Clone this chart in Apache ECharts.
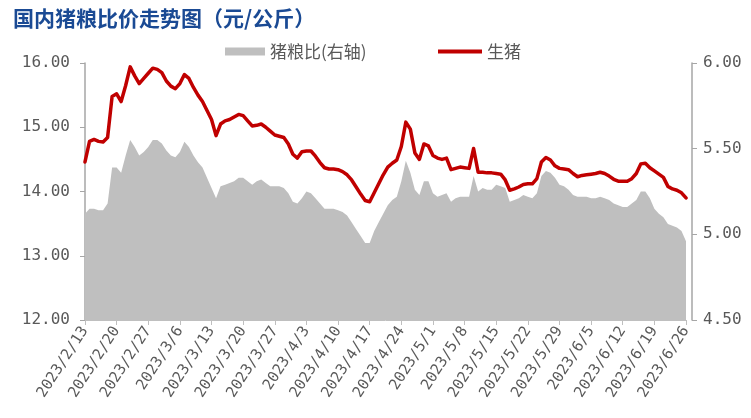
<!DOCTYPE html>
<html><head><meta charset="utf-8">
<script src="https://cdn.jsdelivr.net/npm/echarts@6/dist/echarts.min.js"></script>
<style>html,body{margin:0;padding:0;background:#fff}#c{width:751px;height:418px}</style>
</head><body><div id="c"></div>
<script>
// Categories: daily dates 2023/2/13 .. 2023/6/26
const startDate = [2023, 2, 13];
const dayCount = 134;
const categories = [];
for (let i = 0; i < dayCount; i++) {
  const d = new Date(Date.UTC(startDate[0], startDate[1] - 1, startDate[2] + i));
  categories.push(d.getUTCFullYear() + '/' + (d.getUTCMonth() + 1) + '/' + d.getUTCDate());
}

// 生猪 (元/公斤), left axis
const hogPrice = [
14.46,14.78,14.81,14.78,14.77,14.84,15.48,15.52,15.40,15.65,
15.94,15.80,15.68,15.76,15.84,15.92,15.90,15.85,15.72,15.64,
15.60,15.68,15.82,15.76,15.62,15.50,15.40,15.26,15.12,14.87,
15.05,15.10,15.12,15.16,15.20,15.18,15.10,15.02,15.03,15.05,
15.00,14.94,14.88,14.86,14.84,14.74,14.58,14.52,14.62,14.63,
14.63,14.55,14.45,14.37,14.35,14.35,14.34,14.31,14.26,14.18,
14.07,13.96,13.86,13.84,13.98,14.12,14.26,14.38,14.44,14.49,
14.70,15.08,14.97,14.60,14.50,14.74,14.71,14.56,14.52,14.50,
14.52,14.34,14.36,14.38,14.37,14.36,14.67,14.30,14.30,14.29,
14.29,14.28,14.27,14.18,14.02,14.04,14.07,14.11,14.12,14.12,
14.20,14.46,14.53,14.49,14.40,14.36,14.35,14.34,14.28,14.23,
14.25,14.26,14.27,14.28,14.30,14.28,14.24,14.19,14.16,14.16,
14.16,14.20,14.28,14.43,14.44,14.37,14.32,14.27,14.22,14.08,
14.04,14.02,13.98,13.90
];

// 猪粮比, right axis
const hogGrainRatio = [
5.12,5.15,5.15,5.14,5.14,5.18,5.39,5.39,5.36,5.46,
5.55,5.51,5.46,5.48,5.51,5.55,5.55,5.53,5.49,5.46,
5.45,5.48,5.54,5.51,5.46,5.42,5.39,5.33,5.27,5.21,
5.28,5.29,5.30,5.31,5.33,5.33,5.31,5.29,5.31,5.32,
5.30,5.28,5.28,5.28,5.27,5.24,5.19,5.18,5.21,5.25,
5.24,5.21,5.18,5.15,5.15,5.15,5.14,5.13,5.11,5.07,
5.03,4.99,4.95,4.95,5.02,5.07,5.12,5.17,5.20,5.22,
5.31,5.43,5.36,5.26,5.23,5.31,5.31,5.24,5.22,5.23,
5.24,5.19,5.21,5.22,5.22,5.22,5.34,5.25,5.27,5.26,
5.26,5.29,5.28,5.27,5.19,5.20,5.21,5.23,5.22,5.21,
5.24,5.34,5.37,5.36,5.33,5.29,5.28,5.26,5.23,5.22,
5.22,5.22,5.21,5.21,5.22,5.21,5.20,5.18,5.17,5.16,
5.16,5.18,5.20,5.25,5.25,5.21,5.15,5.12,5.10,5.06,
5.05,5.04,5.02,4.96
];

const leftTicks = { min: 12, max: 16, interval: 1 };
const rightTicks = { min: 4.5, max: 6, interval: 0.5 };

const labelFont = 'DejaVu Sans Mono';
const cjk = 'Noto Sans CJK SC';
const axisGray = '#A6A6A6';
const textGray = '#595959';

const chart = echarts.init(document.getElementById('c'), null, { renderer: 'canvas' });
chart.setOption({
  animation: false,
  backgroundColor: '#fff',
  title: {
    text: '国内猪粮比价走势图（元/公斤）',
    left: 13, top: 8, padding: 0,
    textStyle: { color: '#1A4A94', fontSize: 21, fontWeight: 'bold', fontFamily: cjk }
  },
  legend: [
    {
      data: [{ name: '猪粮比(右轴)', icon: 'rect' }],
      left: 225, top: 43, padding: 0,
      itemWidth: 40, itemHeight: 8, itemGap: 0,
      textStyle: { color: textGray, fontSize: 17, fontFamily: cjk }
    },
    {
      data: [{ name: '生猪', icon: 'rect' }],
      left: 438, top: 43, padding: 0,
      itemWidth: 44, itemHeight: 4,
      textStyle: { color: textGray, fontSize: 17, fontFamily: cjk }
    }
  ],
  grid: { left: 85, right: 65, top: 63, bottom: 98, containLabel: false },
  xAxis: {
    type: 'category',
    data: categories,
    boundaryGap: false,
    axisLine: { lineStyle: { color: '#BFBFBF', width: 1 } },
    axisTick: { show: true, interval: 6, length: 5, lineStyle: { color: '#BFBFBF' } },
    axisLabel: { interval: 6, rotate: 57, color: textGray, fontSize: 15, fontFamily: labelFont, margin: 8 },
    splitLine: { show: false }
  },
  yAxis: [
    {
      type: 'value', position: 'left',
      min: leftTicks.min, max: leftTicks.max, interval: leftTicks.interval,
      axisLine: { show: true, lineStyle: { color: axisGray, width: 1.5 } },
      axisTick: { show: true, length: 5, lineStyle: { color: axisGray } },
      axisLabel: { formatter: v => v.toFixed(2), color: textGray, fontSize: 16, fontFamily: labelFont, margin: 15 },
      splitLine: { show: false }
    },
    {
      type: 'value', position: 'right', offset: 6,
      min: rightTicks.min, max: rightTicks.max, interval: rightTicks.interval,
      axisLine: { show: true, lineStyle: { color: axisGray, width: 1.5 } },
      axisTick: { show: true, length: 5, lineStyle: { color: axisGray } },
      axisLabel: { formatter: v => v.toFixed(2), color: textGray, fontSize: 16, fontFamily: labelFont, margin: 11 },
      splitLine: { show: false }
    }
  ],
  series: [
    {
      name: '猪粮比(右轴)', type: 'line', yAxisIndex: 1,
      data: hogGrainRatio,
      symbol: 'none',
      lineStyle: { width: 0, color: '#BFBFBF' },
      itemStyle: { color: '#BFBFBF' },
      areaStyle: { color: '#BFBFBF', opacity: 1, origin: 'start' },
      z: 1
    },
    {
      name: '生猪', type: 'line', yAxisIndex: 0,
      data: hogPrice,
      symbol: 'none',
      lineStyle: { width: 3.5, color: '#C00000', cap: 'round', join: 'round' },
      itemStyle: { color: '#C00000' },
      z: 3
    }
  ]
});
</script>
</body></html>
